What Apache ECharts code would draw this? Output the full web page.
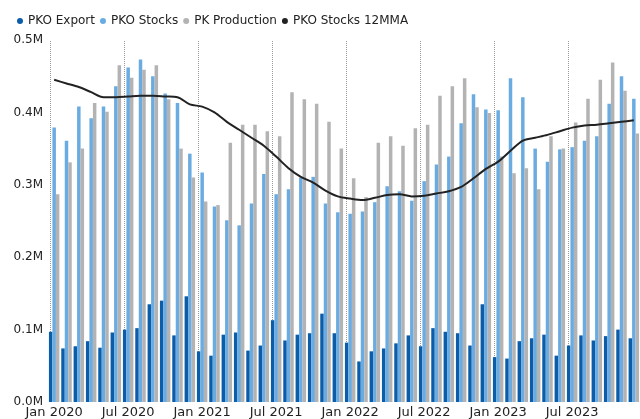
<!DOCTYPE html>
<html>
<head>
<meta charset="utf-8">
<script src="https://cdn.jsdelivr.net/npm/echarts@6/dist/echarts.min.js"></script>
<style>
html,body{margin:0;padding:0;background:#fff;}
#chart{width:640px;height:419px;}
</style>
</head>
<body>
<div id="chart"></div>
<script>
const years = [2020, 2021, 2022, 2023];
const monthNames = ['Jan','Feb','Mar','Apr','May','Jun','Jul','Aug','Sep','Oct','Nov','Dec'];
const categories = [];
years.forEach(y => monthNames.forEach(m => categories.push(m + ' ' + y)));

// values in millions
const pkoExport = [
  0.097, 0.074, 0.077, 0.084, 0.075, 0.096, 0.100, 0.102, 0.135, 0.140, 0.092, 0.146,
  0.070, 0.064, 0.093, 0.096, 0.071, 0.078, 0.113, 0.085, 0.093, 0.095, 0.122, 0.095,
  0.082, 0.056, 0.070, 0.074, 0.081, 0.092, 0.077, 0.102, 0.097, 0.095, 0.078, 0.135,
  0.062, 0.060, 0.084, 0.088, 0.093, 0.064, 0.078, 0.092, 0.085, 0.091, 0.100, 0.088
];
const pkoStocks = [
  0.379, 0.361, 0.408, 0.392, 0.408, 0.436, 0.462, 0.473, 0.450, 0.426, 0.413, 0.343,
  0.317, 0.270, 0.251, 0.244, 0.274, 0.315, 0.287, 0.294, 0.310, 0.311, 0.274, 0.262,
  0.260, 0.263, 0.276, 0.298, 0.291, 0.278, 0.305, 0.328, 0.339, 0.385, 0.425, 0.404,
  0.403, 0.447, 0.421, 0.350, 0.332, 0.349, 0.352, 0.361, 0.367, 0.412, 0.450, 0.419
];
const pkProduction = [
  0.287, 0.331, 0.350, 0.413, 0.401, 0.465, 0.448, 0.459, 0.465, 0.418, 0.350, 0.310,
  0.277, 0.272, 0.358, 0.383, 0.383, 0.374, 0.367, 0.428, 0.418, 0.412, 0.387, 0.350,
  0.309, 0.283, 0.358, 0.367, 0.354, 0.378, 0.383, 0.423, 0.436, 0.447, 0.407, 0.399,
  0.339, 0.316, 0.323, 0.294, 0.367, 0.350, 0.386, 0.419, 0.445, 0.469, 0.430, 0.371
];
const pkoStocks12MMA = [
  0.445, 0.440, 0.435, 0.428, 0.421, 0.421, 0.422, 0.423, 0.423, 0.422, 0.421, 0.411,
  0.408, 0.400, 0.387, 0.376, 0.365, 0.354, 0.339, 0.323, 0.311, 0.303, 0.292, 0.284,
  0.281, 0.279, 0.282, 0.286, 0.287, 0.284, 0.285, 0.288, 0.291, 0.297, 0.309, 0.322,
  0.332, 0.347, 0.361, 0.365, 0.369, 0.374, 0.379, 0.382, 0.383, 0.385, 0.387, 0.389
];
const yTicks = [0, 0.1, 0.2, 0.3, 0.4, 0.5];
const markerMonths = ['Jan 2020','Jul 2020','Jan 2021','Jul 2021','Jan 2022','Jul 2022','Jan 2023','Jul 2023'];

const FONT = 'DejaVu Sans';
const chart = echarts.init(document.getElementById('chart'), null, {renderer: 'canvas'});
chart.setOption({
  animation: false,
  backgroundColor: '#fff',
  textStyle: {fontFamily: FONT},
  legend: {
    left: 12, top: 10,
    icon: 'circle', itemWidth: 6, itemHeight: 6, itemGap: 5,
    textStyle: {fontFamily: FONT, fontSize: 12, color: '#222'},
    data: ['PKO Export', 'PKO Stocks', 'PK Production', 'PKO Stocks 12MMA']
  },
  grid: {left: 48, right: 0, top: 40, bottom: 16.5, containLabel: false},
  xAxis: {
    type: 'category',
    data: categories,
    boundaryGap: true,
    axisLine: {show: false},
    axisTick: {show: false},
    axisLabel: {interval: 5, fontFamily: FONT, fontSize: 13, color: '#222', margin: 4},
    splitLine: {show: false}
  },
  yAxis: {
    type: 'value', min: yTicks[0], max: yTicks[yTicks.length - 1], interval: 0.1,
    axisLine: {show: false}, axisTick: {show: false},
    splitLine: {show: false},
    axisLabel: {fontFamily: FONT, fontSize: 12, color: '#222', margin: 5,
      formatter: v => v.toFixed(1) + 'M'}
  },
  series: [
    {
      name: 'PKO Export', type: 'bar', data: pkoExport, z: 3,
      itemStyle: {color: '#0B5DAA'}, barGap: '0%', barCategoryGap: '15%',
      markLine: {
        silent: true, symbol: 'none', z: 1,
        label: {show: false},
        lineStyle: {color: '#999', type: 'dotted', width: 1},
        data: markerMonths.map(m => ({xAxis: m}))
      }
    },
    {name: 'PKO Stocks', type: 'bar', data: pkoStocks, z: 3, itemStyle: {color: '#6AACE2'}, barGap: '0%', barCategoryGap: '15%'},
    {name: 'PK Production', type: 'bar', data: pkProduction, z: 3, itemStyle: {color: '#B3B3B3'}, barGap: '0%', barCategoryGap: '15%'},
    {
      name: 'PKO Stocks 12MMA', type: 'line', data: pkoStocks12MMA, z: 4,
      smooth: 0.3, symbol: 'none', showSymbol: false,
      itemStyle: {color: '#222'},
      lineStyle: {color: '#222', width: 2}
    }
  ]
});
</script>
</body>
</html>
